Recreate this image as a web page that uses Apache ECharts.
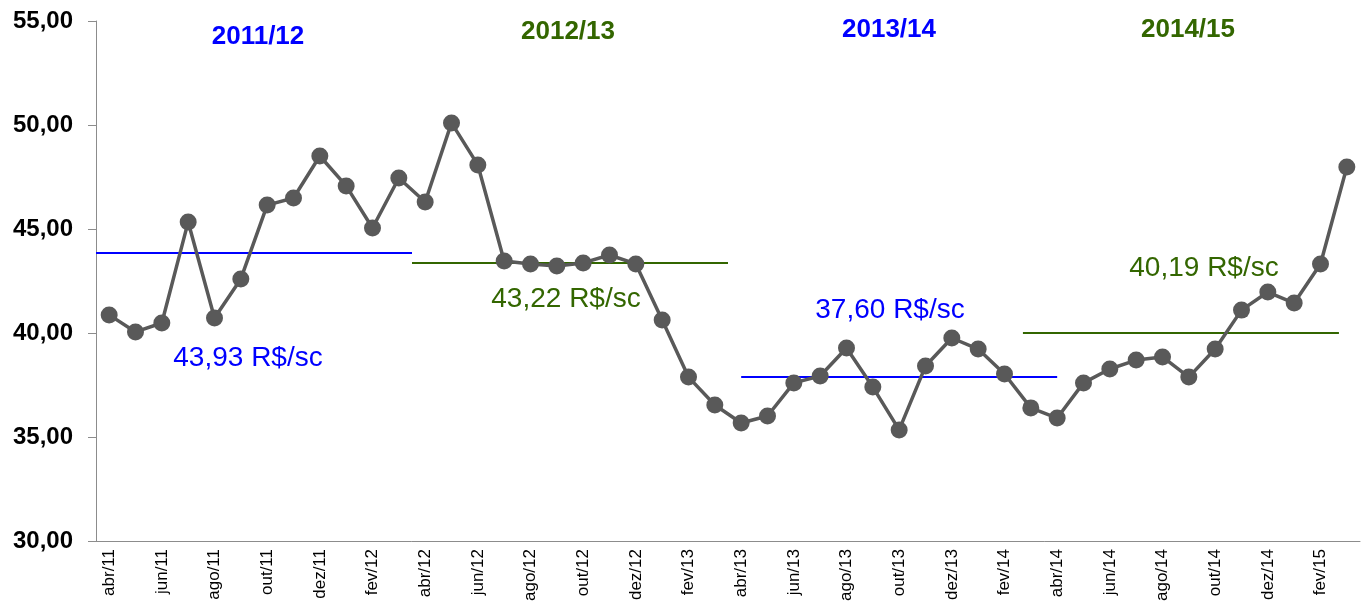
<!DOCTYPE html>
<html><head><meta charset="utf-8">
<script src="https://cdn.jsdelivr.net/npm/echarts@6/dist/echarts.min.js"></script>
<style>html,body{margin:0;padding:0;background:#fff}#c{width:1367px;height:605px}</style>
</head><body><div id="c"></div>
<script>
const categories = ['abr/11','mai/11','jun/11','jul/11','ago/11','set/11','out/11','nov/11','dez/11','jan/12','fev/12','mar/12',
 'abr/12','mai/12','jun/12','jul/12','ago/12','set/12','out/12','nov/12','dez/12','jan/13','fev/13','mar/13',
 'abr/13','mai/13','jun/13','jul/13','ago/13','set/13','out/13','nov/13','dez/13','jan/14','fev/14','mar/14',
 'abr/14','mai/14','jun/14','jul/14','ago/14','set/14','out/14','nov/14','dez/14','jan/15','fev/15','mar/15'];
const prices = [40.87,40.05,40.48,45.34,40.72,42.60,46.15,46.49,48.51,47.07,45.05,47.45,
 46.30,50.10,48.08,43.46,43.32,43.22,43.37,43.75,43.32,40.63,37.88,36.54,
 35.67,36.01,37.60,37.93,39.28,37.40,35.34,38.41,39.76,39.23,38.03,36.40,
 35.91,37.60,38.27,38.70,38.85,37.88,39.23,41.10,41.97,41.44,43.32,47.98];
const seasons = ['2011/12','2012/13','2013/14','2014/15'];
const seasonColors = ['#0000FF','#336600','#0000FF','#336600'];
const avgLabels = ['43,93 R$/sc','43,22 R$/sc','37,60 R$/sc','40,19 R$/sc'];
const avgLevel = [43.85, 43.37, 37.88, 40.00];
const avgStart = [0, 12, 24.5, 35.2];
const avgEnd = [12, 24, 36.5, 47.2];
const yTicks = [30,35,40,45,50,55];

const chart = echarts.init(document.getElementById('c'));
const avgSeries = avgLevel.map((v,i)=>({
  type:'line', xAxisIndex:1, yAxisIndex:0, symbol:'none', silent:true,
  lineStyle:{color:seasonColors[i], width:2}, z:1,
  data:[[avgStart[i],v],[avgEnd[i],v]]
}));
const seasonPos = [[258,37],[568,32],[889,30],[1188,30]];
const avgPos = [[248,358],[566,299],[890,310],[1204,268]];
const graphics = [];
seasons.forEach((s,i)=>graphics.push({type:'text', x:seasonPos[i][0], y:seasonPos[i][1], style:{text:s, fill:seasonColors[i], font:'bold 26px "Liberation Sans", Arial', textAlign:'center', textVerticalAlign:'middle'}}));
avgLabels.forEach((s,i)=>graphics.push({type:'text', x:avgPos[i][0], y:avgPos[i][1], style:{text:s, fill:seasonColors[i], font:'28px "Liberation Sans", Arial', textAlign:'center', textVerticalAlign:'middle'}}));

chart.setOption({
  animation:false,
  grid:{left:96, right:7, top:21, bottom:64, containLabel:false},
  xAxis:[{type:'category', data:categories, boundaryGap:true,
    axisLine:{lineStyle:{color:'#8c8c8c', width:1}},
    axisTick:{interval:1, length:6, lineStyle:{color:'#8c8c8c'}},
    axisLabel:{interval:1, rotate:90, color:'#000', fontSize:17, fontFamily:'Liberation Sans', margin:8}},
    {type:'value', min:0, max:48, show:false}],
  yAxis:{type:'value', min:30, max:55, interval:5, splitLine:{show:false},
    axisLine:{show:true, lineStyle:{color:'#8c8c8c'}},
    axisTick:{show:true, length:8, lineStyle:{color:'#8c8c8c'}},
    axisLabel:{color:'#000', fontSize:24, fontWeight:'bold', fontFamily:'Liberation Sans', margin:23,
      formatter:v=>v.toFixed(2).replace('.',',')}},
  graphic:graphics,
  series:[...avgSeries,
    {type:'line', data:prices, symbol:'circle', symbolSize:17, z:3,
     lineStyle:{color:'#595959', width:3.5}, itemStyle:{color:'#595959'}}]
});
</script></body></html>
